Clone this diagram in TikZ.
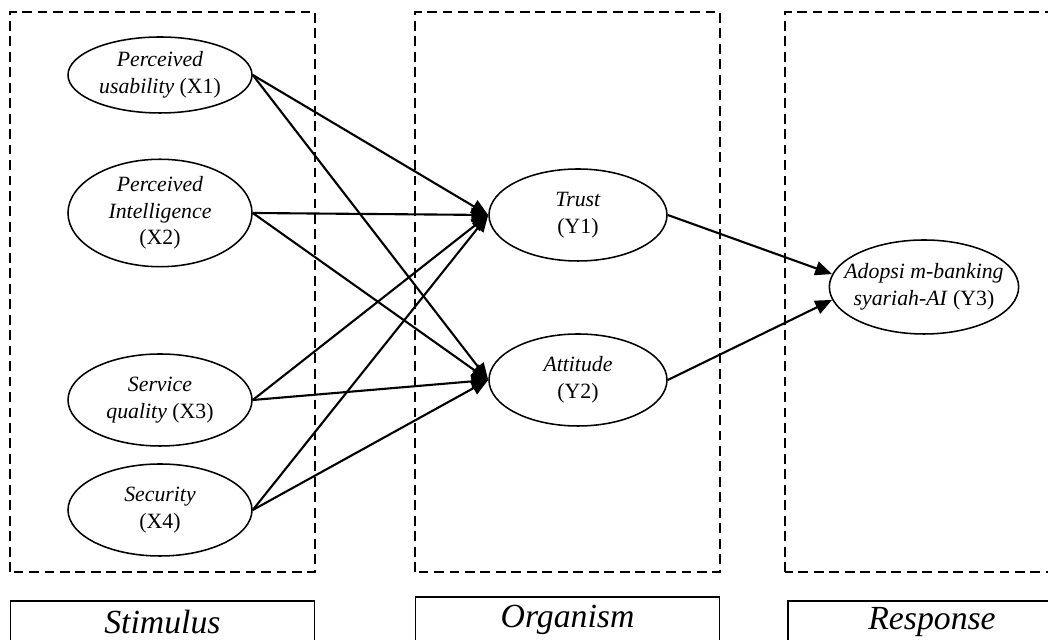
\documentclass[tikz,border=0pt]{standalone}
\usepackage{fontspec}
\setmainfont{Liberation Serif}
\usetikzlibrary{arrows.meta,shapes.geometric}

\tikzset{
  var/.style={draw,ellipse,line width=1.1pt,minimum width=4.6cm,minimum height=2.3cm,
    align=center,inner sep=1pt,font=\fontsize{15.5}{19}\selectfont},
  part/.style={draw,line width=1.5pt,dash pattern=on 7pt off 4pt},
  tag/.style={draw,line width=1.1pt,anchor=north,minimum width=7.6cm,minimum height=1.05cm,
    font=\fontsize{24}{28}\selectfont\itshape},
  link/.style={-{Triangle[length=12pt,width=10pt]},line width=1.5pt}
}

\begin{document}
\begin{tikzpicture}
            \useasboundingbox (0,0) rectangle (26.2,16);
            % dashed frames
            \draw[part] (0.25,1.7) rectangle (7.875,15.7);
            \draw[part] (10.375,1.7) rectangle (18,15.7);
            \draw[part] (19.625,1.7) rectangle (26.6,15.7);
            % stimulus
            \node[var,minimum height=1.9cm] (x1) at (4.0,14.125) {\textit{Perceived}\\\textit{usability} (X1)};
            \node[var] (x2) at (4.0,10.675) {\textit{Perceived}\\\textit{Intelligence}\\(X2)};
            \node[var] (x3) at (4.0,6.0) {\textit{Service}\\\textit{quality} (X3)};
            \node[var] (x4) at (4.0,3.25) {\textit{Security}\\(X4)};
            % organism
            \node[var,minimum width=4.45cm] (y1) at (14.45,10.625) {\textit{Trust}\\(Y1)};
            \node[var,minimum width=4.45cm] (y2) at (14.45,6.5) {\textit{Attitude}\\(Y2)};
            % response
            \node[var,minimum width=4.4cm,minimum height=2.35cm,inner xsep=-9pt] (y3) at (23.1,8.825) {\textit{Adopsi m-banking}\\\textit{syariah-AI} (Y3)};
            % paths
            \foreach \s in {x1,x2,x3,x4} {
                \draw[link] (\s.east) -- (y1.west);
                \draw[link] (\s.east) -- (y2.west);
            }
            \draw[link] (y1.east) -- (y3.172);
            \draw[link] (y2.east) -- (y3.188);
            % labels
            \node[tag] (stim) at (4.06,1.0) {Stimulus};
            \node[tag,minimum height=1.15cm] (org) at (14.19,1.1) {Organism};
            \node[tag,minimum width=7.2cm] (resp) at (23.3,1.0) {Response};
        \end{tikzpicture}
\end{document}
